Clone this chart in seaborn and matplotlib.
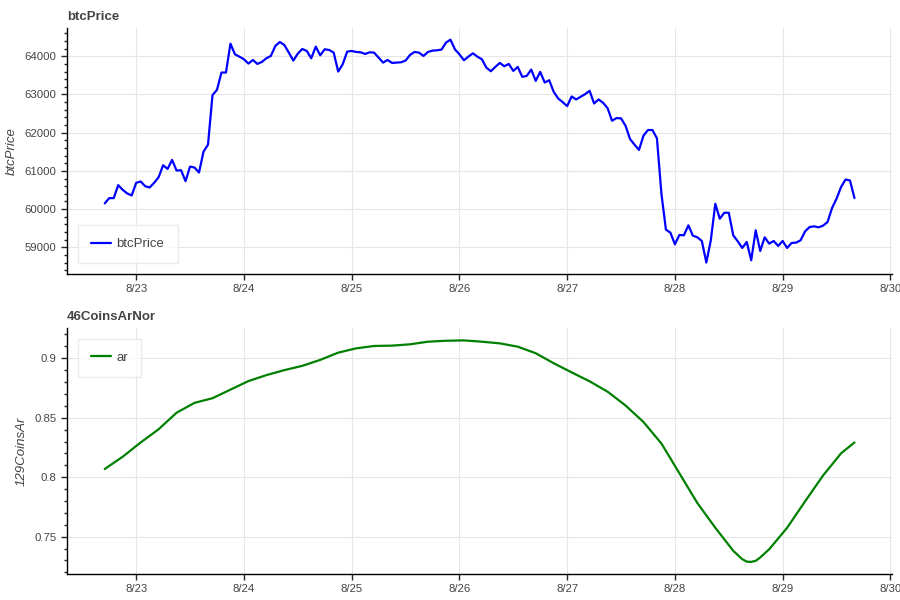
import matplotlib
matplotlib.use("Agg")
import matplotlib.pyplot as plt
import matplotlib.dates as mdates
from matplotlib.ticker import AutoMinorLocator
import pandas as pd
import seaborn as sns

# hourly btc price, 8/22 17:00 -> 8/29 16:00
btc_start = "2024-08-22 17:00"
btc_price = [
    60148, 60287, 60287, 60626, 60504, 60409, 60357, 60687, 60722, 60600,
    60565, 60687, 60835, 61148, 61052, 61287, 61009, 61017, 60730, 61113,
    61087, 60957, 61504, 61687, 62983, 63122, 63574, 63574, 64330, 64052,
    63991, 63922, 63809, 63904, 63800, 63852, 63948, 64009, 64270, 64374,
    64296, 64096, 63887, 64070, 64191, 64139, 63948, 64252, 64026, 64183,
    64165, 64096, 63600, 63791, 64122, 64139, 64113, 64104, 64061, 64104,
    64096, 63965, 63835, 63904, 63826, 63835, 63843, 63887, 64035, 64113,
    64096, 64009, 64113, 64148, 64157, 64174, 64357, 64435, 64183, 64052,
    63896, 63991, 64078, 63991, 63922, 63704, 63609, 63722, 63826, 63739,
    63800, 63617, 63722, 63461, 63487, 63652, 63357, 63591, 63313, 63374,
    63070, 62896, 62800, 62696, 62948, 62870, 62939, 63009, 63096, 62765,
    62870, 62783, 62643, 62313, 62383, 62374, 62183, 61835, 61687, 61548,
    61922, 62070, 62070, 61852, 60400, 59461, 59383, 59078, 59322, 59313,
    59574, 59304, 59261, 59165, 58600, 59183, 60139, 59748, 59904, 59904,
    59313, 59157, 58983, 59139, 58661, 59443, 58904, 59261, 59096, 59165,
    59035, 59165, 58983, 59113, 59122, 59183, 59417, 59530, 59548, 59522,
    59565, 59661, 60026, 60270, 60574, 60774, 60748, 60287,
]

# ar, read off roughly every 4 hours (hour offsets from btc_start)
ar_hours = [0, 4, 8, 12, 16, 20, 24, 28, 32, 36, 40, 44, 48, 52, 56, 60,
            64, 68, 72, 76, 80, 84, 88, 92, 96, 100, 104, 108, 112, 116,
            120, 124, 128, 132, 136, 140, 142, 143, 144, 145, 146, 148,
            152, 156, 160, 164, 167]
ar_values = [0.8069, 0.8172, 0.8292, 0.8403, 0.8542, 0.8625, 0.8664, 0.8736,
             0.8808, 0.8858, 0.8900, 0.8936, 0.8986, 0.9047, 0.9083, 0.9103,
             0.9106, 0.9117, 0.9139, 0.9147, 0.9150, 0.9139, 0.9125, 0.9097,
             0.9042, 0.8958, 0.8881, 0.8806, 0.8719, 0.8603, 0.8464, 0.8283,
             0.8033, 0.7783, 0.7575, 0.7381, 0.7311, 0.7290, 0.7288, 0.7297,
             0.7325, 0.7394, 0.7575, 0.7797, 0.8014, 0.8200, 0.8292]

btc_df = pd.DataFrame({
    "time": pd.date_range(btc_start, periods=len(btc_price), freq="h"),
    "btcPrice": btc_price,
})
ar_df = pd.DataFrame({
    "time": pd.Timestamp(btc_start) + pd.to_timedelta(ar_hours, unit="h"),
    "ar": ar_values,
})

sns.set_style("white")
plt.rcParams["font.family"] = ["Liberation Sans", "DejaVu Sans"]
txt = "#444444"

fig = plt.figure(figsize=(9, 6), dpi=100)
ax1 = fig.add_axes([0.0744, 0.5433, 0.917, 0.41])
ax2 = fig.add_axes([0.0744, 0.0433, 0.917, 0.41])

sns.lineplot(data=btc_df, x="time", y="btcPrice", color="blue", linewidth=1.6,
             label="btcPrice", ax=ax1)
sns.lineplot(data=ar_df, x="time", y="ar", color="green", linewidth=1.6,
             label="ar", ax=ax2)

for ax, title, ylab in [(ax1, "btcPrice", "btcPrice"), (ax2, "46CoinsArNor", "129CoinsAr")]:
    ax.set_title(title, loc="left", fontsize=9.5, fontweight="bold", color=txt, pad=6)
    ax.set_ylabel(ylab, fontsize=9.5, style="italic", color=txt, labelpad=5)
    ax.set_xlabel("")
    ax.grid(True, color="#e6e6e6", linewidth=0.8)
    for s in ["top", "right"]:
        ax.spines[s].set_visible(False)
    for s in ["left", "bottom"]:
        ax.spines[s].set_color("black")
        ax.spines[s].set_linewidth(1)
    ax.xaxis.set_major_locator(mdates.DayLocator())
    ax.xaxis.set_major_formatter(mdates.DateFormatter("%-m/%d"))
    ax.yaxis.set_minor_locator(AutoMinorLocator(5))
    ax.tick_params(axis="both", which="major", direction="out", length=4.5, width=1,
                   pad=3, labelsize=8.2, labelcolor=txt, left=True, bottom=True)
    ax.tick_params(axis="y", which="minor", direction="out", length=2.5, width=1, left=True)
    ax.set_xlim(pd.Timestamp("2024-08-22 08:35"), pd.Timestamp("2024-08-30 00:25"))

ax1.set_ylim(58300, 64740)
ax1.set_yticks([59000, 60000, 61000, 62000, 63000, 64000])
ax2.set_ylim(0.7186, 0.9254)
ax2.set_yticks([0.75, 0.8, 0.85, 0.9])
ax2.set_yticklabels(["0.75", "0.8", "0.85", "0.9"])

leg_kw = dict(frameon=True, fancybox=False, edgecolor="#e6e6e6", fontsize=9.5,
              handlelength=1.5, handletextpad=0.45, borderpad=1.0,
              labelcolor=txt, borderaxespad=0.8)
ax1.legend(loc="lower left", **leg_kw)
ax2.legend(loc="upper left", **leg_kw)

fig.savefig("out.png", dpi=100)
